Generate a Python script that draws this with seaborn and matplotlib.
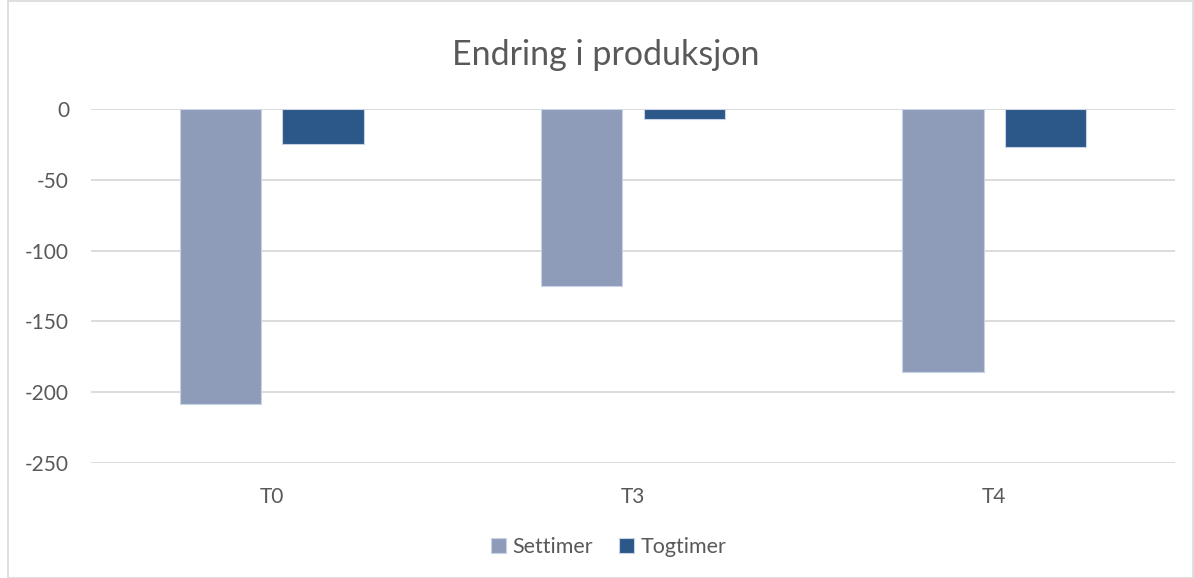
import matplotlib
matplotlib.use("Agg")
import matplotlib.pyplot as plt
import seaborn as sns
import pandas as pd
from matplotlib.patches import Rectangle

categories = ["T0", "T3", "T4"]
settimer = [-208, -125, -186]
togtimer = [-25, -7, -27]
series_names = ["Settimer", "Togtimer"]
colors = ["#8E9CBA", "#2C5789"]
yticks = [0, -50, -100, -150, -200, -250]

df = pd.DataFrame({
    "kategori": categories * 2,
    "serie": [series_names[0]] * len(categories) + [series_names[1]] * len(categories),
    "verdi": settimer + togtimer,
})

sns.set_theme(style="white")
plt.rcParams["font.family"] = ["Lato", "DejaVu Sans"]

fig = plt.figure(figsize=(11.94, 5.78), dpi=100)
ax = fig.add_axes([0.0762, 0.199, 0.9079, 0.6125])

sns.barplot(data=df, x="kategori", y="verdi", hue="serie", palette=colors,
            saturation=1, width=0.569, gap=0.21, ax=ax, edgecolor="#C9D3E6",
            linewidth=0.8, legend=True, zorder=3)

ax.set_ylim(-250, 0)
ax.set_yticks(yticks)
ax.set_yticklabels([str(v) for v in yticks])
ax.set_xlim(-0.5, 2.5)
ax.grid(axis="y", color="#D9D9D9", linewidth=1.3, zorder=0)
ax.set_axisbelow(True)
for s in ax.spines.values():
    s.set_visible(False)
ax.set_xlabel("")
ax.set_ylabel("")
ax.tick_params(axis="y", length=0, pad=15.8, labelsize=15, labelcolor="#595959")
ax.tick_params(axis="x", length=0, pad=17, labelsize=15, labelcolor="#595959")
ax.xaxis.set_ticks_position("bottom")

fig.text(0.5075, 0.905, "Endring i produksjon", fontsize=24.5, color="#595959",
         ha="center", va="center")

handles, labels = ax.get_legend_handles_labels()
ax.legend_.remove()
leg = fig.legend(handles, labels, loc="center", bbox_to_anchor=(0.51, 0.054),
                 ncol=2, frameon=False, fontsize=15.5, handlelength=0.7,
                 handleheight=0.7, handletextpad=0.3, columnspacing=1.2)
for t in leg.get_texts():
    t.set_color("#595959")

fig.patches.append(Rectangle((0.007, 0.0), 0.992, 0.998, transform=fig.transFigure,
                             fill=False, edgecolor="#D9D9D9", linewidth=1.2))

fig.savefig("out.png", dpi=100, facecolor="white")
